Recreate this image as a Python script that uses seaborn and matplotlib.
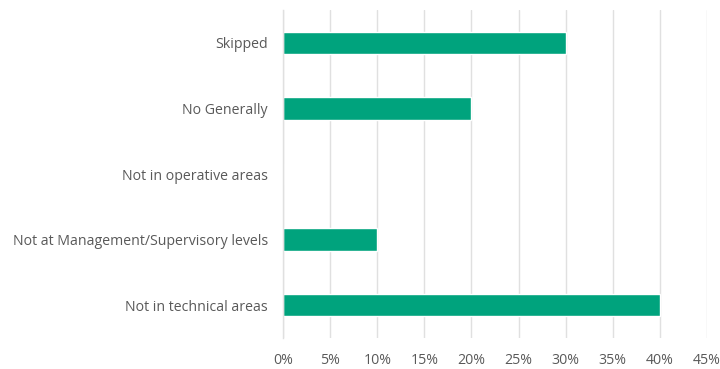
import matplotlib
matplotlib.use("Agg")
import matplotlib.pyplot as plt
import seaborn as sns
import pandas as pd
from matplotlib.ticker import PercentFormatter

categories = ["Skipped", "No Generally", "Not in operative areas",
              "Not at Management/Supervisory levels", "Not in technical areas"]
values = [30, 20, 0, 10, 40]
xticks = [0, 5, 10, 15, 20, 25, 30, 35, 40, 45]

df = pd.DataFrame({"category": categories, "value": values})

sns.set_theme(style="white")
plt.rcParams["font.family"] = ["Open Sans", "DejaVu Sans"]

fig = plt.figure(figsize=(7.2, 3.69), dpi=100)
ax = fig.add_axes([283.3/720, 1 - 338/369, (706.7-283.3)/720, (338-10)/369])

sns.barplot(data=df, y="category", x="value", order=categories, orient="h",
            color="#00A37D", width=0.34, saturation=1, ax=ax)

ax.set_xlim(0, 45)
ax.set_ylim(4.5, -0.5)
ax.set_xticks(xticks)
ax.xaxis.set_major_formatter(PercentFormatter(decimals=0))
ax.grid(axis="x", color="#e0e0e0", linewidth=1)
ax.set_axisbelow(True)
for s in ["top", "right", "bottom"]:
    ax.spines[s].set_visible(False)
ax.spines["left"].set_color("#e0e0e0")
ax.spines["left"].set_linewidth(1)
ax.set_xlabel("")
ax.set_ylabel("")
ax.tick_params(axis="y", length=0, pad=11, labelsize=10.2, labelcolor="#595959")
ax.tick_params(axis="x", length=0, pad=11, labelsize=10.2, labelcolor="#595959")

fig.savefig("out.png", dpi=100)
